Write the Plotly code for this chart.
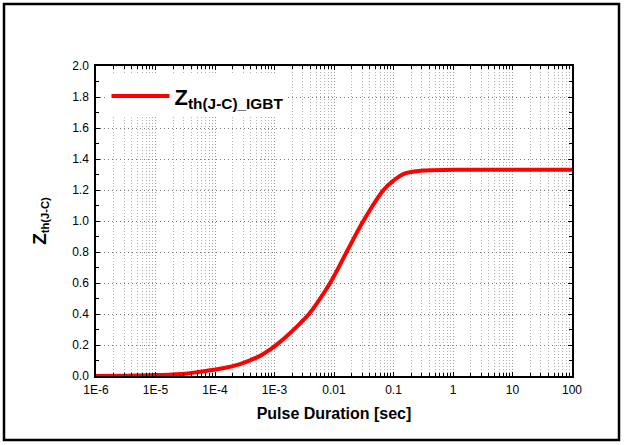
import plotly.graph_objects as go

# Data
pulse_sec = [1e-6, 3.2e-6, 1e-5, 3.2e-5, 5.6e-5, 1.21e-4, 2.63e-4, 5.7e-4, 8.4e-4,
             1.24e-3, 2.7e-3, 3.8e-3, 8.6e-3, 1.63e-2, 3.11e-2, 6.8e-2,
             0.1, 0.156, 0.32, 1, 10, 100]
zth = [0.0, 0.002, 0.006, 0.015, 0.028, 0.047, 0.077, 0.13, 0.17,
       0.22, 0.34, 0.4, 0.6, 0.8, 1.0, 1.2,
       1.26, 1.307, 1.326, 1.33, 1.33, 1.33]

x_tickvals = [1e-6, 1e-5, 1e-4, 1e-3, 1e-2, 1e-1, 1, 10, 100]
x_ticktext = ["1E-6", "1E-5", "1E-4", "1E-3", "0.01", "0.1", "1", "10", "100"]

W, H = 624, 445
L, R, T, B = 96, 52, 66, 69
pw, ph = W - L - R, H - T - B

fig = go.Figure()
fig.add_trace(go.Scatter(
    x=pulse_sec, y=zth, mode="lines",
    line=dict(color="#ff0000", width=4, shape="spline", smoothing=1.0),
    name="<b>Z<sub>th(J-C)_IGBT</sub></b>",
))

font = "Liberation Sans, Arial, sans-serif"
fig.update_layout(
    width=W, height=H,
    margin=dict(l=L, r=R, t=T, b=B),
    paper_bgcolor="white", plot_bgcolor="white",
    font=dict(family=font, size=12, color="black"),
    showlegend=True,
    legend=dict(x=0.022, y=0.97, xanchor="left", yanchor="top",
                bgcolor="white", borderwidth=0, itemwidth=58,
                font=dict(family=font, size=22, color="black")),
    xaxis=dict(
        type="log", range=[-6, 2],
        tickvals=x_tickvals, ticktext=x_ticktext,
        showline=True, linecolor="black", linewidth=1.5, mirror="allticks",
        ticks="inside", ticklen=4, tickcolor="black", ticklabelstandoff=2,
        showgrid=True, gridcolor="#9a9a9a", griddash="1px,2px", gridwidth=1,
        minor=dict(dtick="D1", showgrid=True, gridcolor="#b0b0b0",
                   griddash="1px,2px", ticks="inside", ticklen=3, tickcolor="black"),
        title=dict(text="<b>Pulse Duration [sec]</b>", font=dict(size=16), standoff=12),
        zeroline=False,
    ),
    yaxis=dict(
        range=[0, 2], dtick=0.2, tickformat=".1f",
        showline=True, linecolor="black", linewidth=1.5, mirror="allticks",
        ticks="inside", ticklen=4, tickcolor="black", ticklabelstandoff=3,
        showgrid=True, gridcolor="#777777", griddash="1px,3px", gridwidth=1,
        minor=dict(dtick=0.1, ticks="inside", ticklen=3, tickcolor="black", showgrid=False),
        title=dict(text="<b><span style='font-size:19px'>Z</span><sub>th(J-C)</sub></b>",
                   font=dict(size=16), standoff=22),
        zeroline=False,
    ),
)

# outer frame of the figure
fig.add_shape(type="rect", xref="paper", yref="paper",
              x0=(4 - L) / pw, x1=(619 - L) / pw,
              y0=(H - B - 440) / ph, y1=(H - B - 4) / ph,
              line=dict(color="black", width=2.5), fillcolor="rgba(0,0,0,0)", layer="above")

fig.write_html("out.html", config={"displayModeBar": False},
               post_script="document.body.style.margin='0';document.body.style.overflow='hidden';")
